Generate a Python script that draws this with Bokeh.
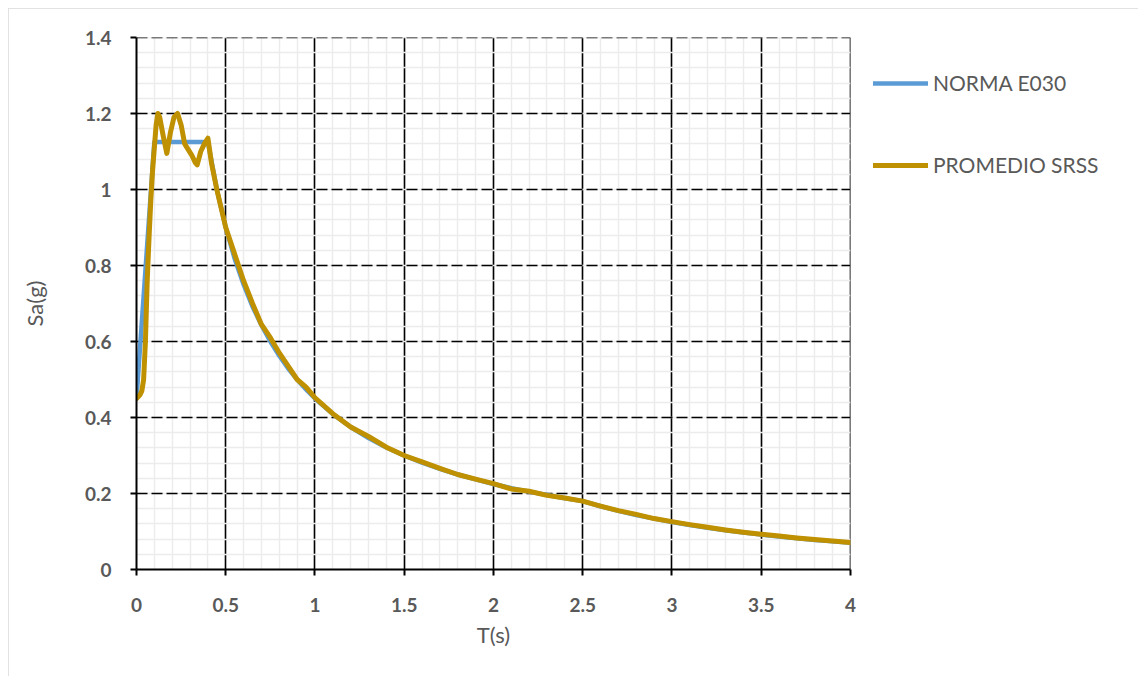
from bokeh.plotting import figure
from bokeh.models import (Legend, LegendItem, SingleIntervalTicker, CustomJSTickFormatter,
                          Range1d)
from bokeh.embed import file_html
from bokeh.resources import INLINE

# ---- data ----
t_norma = [0.0, 0.1, 0.4, 0.45, 0.5, 0.55, 0.6, 0.65, 0.7, 0.75, 0.8, 0.85, 0.9, 0.95, 1.0,
           1.1, 1.2, 1.3, 1.4, 1.5, 1.6, 1.7, 1.8, 1.9, 2.0, 2.1, 2.2, 2.3, 2.4, 2.5,
           2.6, 2.7, 2.8, 2.9, 3.0, 3.1, 3.2, 3.3, 3.4, 3.5, 3.6, 3.7, 3.8, 3.9, 4.0]
sa_norma = [0.45, 1.125, 1.125, 1.0, 0.9, 0.818, 0.75, 0.692, 0.643, 0.6, 0.5625, 0.529, 0.5,
            0.474, 0.45, 0.409, 0.375, 0.346, 0.321, 0.3, 0.281, 0.265, 0.25, 0.237, 0.225,
            0.214, 0.205, 0.196, 0.1875, 0.18, 0.1664, 0.1543, 0.1435, 0.1338, 0.125, 0.1171,
            0.1099, 0.1033, 0.0973, 0.0918, 0.0868, 0.0822, 0.0779, 0.074, 0.0703]

t_srss = [0.0, 0.02, 0.03, 0.04, 0.05, 0.06, 0.07, 0.08, 0.09, 0.10, 0.11, 0.12, 0.13, 0.15,
          0.17, 0.19, 0.21, 0.23, 0.25, 0.27, 0.29, 0.31, 0.33, 0.34, 0.36, 0.38, 0.40, 0.42,
          0.45, 0.5, 0.55, 0.6, 0.65, 0.7, 0.75, 0.8, 0.85, 0.9, 0.95, 1.0,
          1.1, 1.2, 1.3, 1.4, 1.5, 1.6, 1.7, 1.8, 1.9, 2.0, 2.1, 2.2, 2.3, 2.4, 2.5,
          2.6, 2.7, 2.8, 2.9, 3.0, 3.1, 3.2, 3.3, 3.4, 3.5, 3.6, 3.7, 3.8, 3.9, 4.0]
sa_srss = [0.45, 0.46, 0.47, 0.50, 0.60, 0.76, 0.87, 0.97, 1.05, 1.11, 1.17, 1.20, 1.19, 1.14,
           1.095, 1.15, 1.19, 1.20, 1.17, 1.12, 1.105, 1.09, 1.07, 1.065, 1.10, 1.12, 1.135,
           1.07, 1.00, 0.90, 0.83, 0.76, 0.70, 0.645, 0.61, 0.57, 0.535, 0.50, 0.48, 0.452,
           0.41, 0.375, 0.35, 0.322, 0.30, 0.283, 0.266, 0.25, 0.238, 0.226, 0.212, 0.206,
           0.195, 0.188, 0.18, 0.167, 0.155, 0.145, 0.134, 0.126, 0.118, 0.111, 0.104, 0.098,
           0.093, 0.088, 0.083, 0.079, 0.075, 0.071]

series_names = ["NORMA E030", "PROMEDIO SRSS"]
series_colors = ["#5b9bd5", "#bf9000"]
x_title = "T(s)"
y_title = "Sa(g)"

FONT = "Lato"
GREY = "#595959"

p = figure(frame_width=714, frame_height=532, output_backend="svg", toolbar_location=None,
           x_range=Range1d(0, 4.0005), y_range=Range1d(0, 1.40001),
           min_border_left=128, min_border_right=280, min_border_top=29,
           min_border_bottom=107)
p.margin = (8, 8, 8, 8)
p.styles = {"outline": "1px solid #d9d9d9", "outline-offset": "-1px"}
p.outline_line_color = None
p.background_fill_color = "white"
p.border_fill_color = "white"

p.xaxis.ticker = SingleIntervalTicker(interval=0.5, num_minor_ticks=5)
p.yaxis.ticker = SingleIntervalTicker(interval=0.2, num_minor_ticks=5)
fmt = "var s = tick.toFixed(2); if (s.indexOf('.') >= 0) { s = s.replace(/0+$/, '').replace(/\\.$/, ''); } return s;"
p.xaxis.formatter = CustomJSTickFormatter(code=fmt)
p.yaxis.formatter = CustomJSTickFormatter(code=fmt)

for ax in (p.xaxis[0], p.yaxis[0]):
    ax.axis_line_color = "black"
    ax.axis_line_width = 2
    ax.major_tick_line_color = "black"
    ax.major_tick_line_width = 2
    ax.major_tick_out = 6
    ax.major_tick_in = 0
    ax.minor_tick_line_color = None
    ax.major_label_text_font = FONT
    ax.major_label_text_font_style = "bold"
    ax.major_label_text_font_size = "19px"
    ax.major_label_text_color = GREY
    ax.axis_label_text_font = FONT
    ax.axis_label_text_font_style = "normal"
    ax.axis_label_text_font_size = "22px"
    ax.axis_label_text_color = GREY

p.xaxis.axis_label = x_title
p.yaxis.axis_label = y_title
p.xaxis.major_label_standoff = 22
p.xaxis.axis_label_standoff = 6
p.yaxis.major_label_standoff = 19
p.yaxis.axis_label_standoff = 34

# grids
p.xgrid.grid_line_color = "black"
p.xgrid.grid_line_width = 1.6
p.ygrid.grid_line_color = "black"
p.ygrid.grid_line_width = 1.6
p.ygrid.grid_line_dash = "11 4"
p.xgrid.minor_grid_line_color = "#ececec"
p.xgrid.minor_grid_line_width = 1.5
p.ygrid.minor_grid_line_color = "#ececec"
p.ygrid.minor_grid_line_width = 1.5

r1 = p.line(t_norma, sa_norma, line_color=series_colors[0], line_width=4.5,
            line_join="round", line_cap="round")
r2 = p.line(t_srss, sa_srss, line_color=series_colors[1], line_width=5,
            line_join="round", line_cap="round")

legend = Legend(items=[LegendItem(label=series_names[0], renderers=[r1]),
                       LegendItem(label=series_names[1], renderers=[r2])],
                location=(23, 392), orientation="vertical",
                glyph_width=55, glyph_height=20, label_standoff=5, spacing=57,
                padding=0, margin=0, border_line_alpha=0, background_fill_alpha=0,
                label_text_font=FONT, label_text_font_size="21px",
                label_text_color=GREY)
p.add_layout(legend, "right")

open("out.html", "w").write(file_html(p, INLINE))
